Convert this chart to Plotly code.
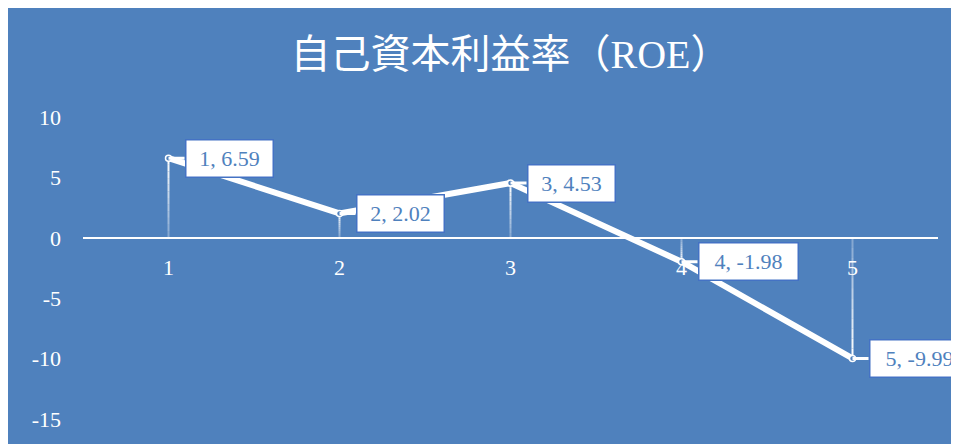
import plotly.graph_objects as go

# ---- data ----
categories = [1, 2, 3, 4, 5]
roe_values = [6.59, 2.02, 4.53, -1.98, -9.99]
y_ticks = [-15, -10, -5, 0, 5, 10]
title_text = "自己資本利益率（ROE）"

BG = "#4F81BD"
BOX_BORDER = "#4472C4"
LATIN = "Liberation Serif, Noto Sans CJK JP, serif"

fig = go.Figure()

# drop lines (gradient: faint near axis, solid near point)
N = 12
for k in range(N):
    xs, ys = [], []
    for c, v in zip(categories, roe_values):
        xs += [c, c, None]
        ys += [v * k / N, v * (k + 1) / N, None]
    fig.add_trace(go.Scatter(
        x=xs, y=ys, mode="lines",
        line=dict(color="white", width=2),
        opacity=0.25 + 0.75 * (k + 1) / N,
        hoverinfo="skip", showlegend=False))

# main line
fig.add_trace(go.Scatter(
    x=categories, y=roe_values, mode="lines+markers",
    line=dict(color="white", width=6),
    marker=dict(size=6, color=BG, line=dict(color="white", width=1.5)),
    showlegend=False))

# data labels (callouts)
for c, v in zip(categories, roe_values):
    txt = f"{c}, {v:.2f}"
    fig.add_annotation(
        x=c, y=v, xref="x", yref="y",
        text=txt, showarrow=True, arrowhead=0, arrowwidth=3,
        arrowcolor="white", ax=16, ay=0, xanchor="left", yanchor="middle",
        bgcolor="white", bordercolor=BOX_BORDER, borderwidth=1.5,
        borderpad=4, width=12 * len(txt) - 6, height=28, align="center",
        font=dict(family=LATIN, size=22, color=BG))

fig.update_layout(
    width=951, height=436,
    margin=dict(l=75, r=21, t=109, b=22),
    paper_bgcolor=BG, plot_bgcolor=BG,
    title=dict(text=title_text, x=0.5, xref="paper", xanchor="center",
               y=1 - 46 / 436, yref="container", yanchor="middle",
               font=dict(family=LATIN, size=40, color="white")),
    xaxis=dict(range=[0.5, 5.5], tickvals=categories,
               ticktext=[str(c) for c in categories],
               anchor="free", position=0.6,
               showline=True, linecolor="white", linewidth=2,
               showgrid=False, zeroline=False, ticks="",
               ticklabelstandoff=10,
               tickfont=dict(family=LATIN, size=22, color="white")),
    yaxis=dict(range=[-15, 10], tickvals=y_ticks,
               ticktext=[str(t) for t in y_ticks],
               showgrid=False, zeroline=False, showline=False, ticks="",
               ticklabelstandoff=21,
               tickfont=dict(family=LATIN, size=22, color="white")),
)

fig.write_html("out.html")
